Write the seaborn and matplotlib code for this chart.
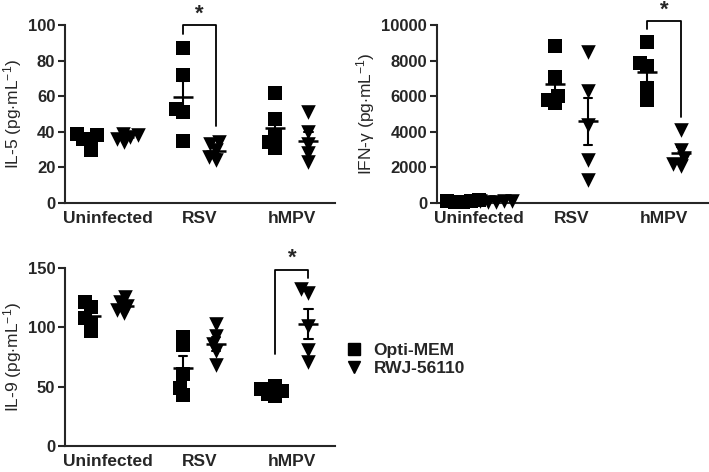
import numpy as np
import pandas as pd
import seaborn as sns
import matplotlib.pyplot as plt
from matplotlib.lines import Line2D

groups = ["Uninfected", "RSV", "hMPV"]
treatments = ["Opti-MEM", "RWJ-56110"]

# IL-5 (pg/mL)
il5_opti = {"Uninfected": [39, 38, 36, 35, 30], "RSV": [87, 72, 53, 51, 35], "hMPV": [62, 47, 38, 34, 31]}
il5_rwj = {"Uninfected": [39, 38, 37, 36, 34], "RSV": [34, 33, 30, 26, 24], "hMPV": [51, 40, 33, 28, 23]}

# IFN-gamma (pg/mL)
ifn_opti = {"Uninfected": [150, 100, 80, 60, 120], "RSV": [8800, 7100, 6000, 5800, 5600], "hMPV": [9050, 7850, 7700, 6450, 5800]}
ifn_rwj = {"Uninfected": [120, 80, 60, 100, 90], "RSV": [8500, 6300, 4400, 2400, 1300], "hMPV": [4100, 3000, 2500, 2200, 2100]}

# IL-9 (pg/mL)
il9_opti = {"Uninfected": [121, 117, 108, 104, 97], "RSV": [92, 85, 61, 49, 43], "hMPV": [51, 48, 46, 44, 42]}
il9_rwj = {"Uninfected": [126, 121, 118, 115, 112], "RSV": [103, 93, 86, 80, 68], "hMPV": [132, 129, 101, 81, 71]}

offset = 0.18


def make_df(opti, rwj):
    rows = []
    for gi, g in enumerate(groups):
        for v in opti[g]:
            rows.append((g, "Opti-MEM", gi - offset, v))
        for v in rwj[g]:
            rows.append((g, "RWJ-56110", gi + offset, v))
    return pd.DataFrame(rows, columns=["group", "treatment", "pos", "value"])


sns.set_style("ticks")
plt.rcParams["font.family"] = ["Liberation Sans", "DejaVu Sans"]
plt.rcParams["mathtext.fontset"] = "custom"
plt.rcParams["mathtext.rm"] = "Liberation Sans"
plt.rcParams["mathtext.it"] = "Liberation Sans:italic"

fig = plt.figure(figsize=(7.09, 4.72), dpi=100)
ax1 = fig.add_axes([0.0917, 0.570, 0.381, 0.377])
ax2 = fig.add_axes([0.616, 0.570, 0.382, 0.377])
ax3 = fig.add_axes([0.0917, 0.055, 0.381, 0.377])

swarms = []  # (collection, final marker size)


def draw_panel(ax, df, ymax, yticks, ylabel):
    for t, m, s in [("Opti-MEM", "s", 9.5), ("RWJ-56110", "v", 10.5)]:
        sub = df[df.treatment == t]
        n0 = len(ax.collections)
        # swarm laid out with a smaller marker so points may overlap like the original
        sns.swarmplot(data=sub, x="pos", y="value", native_scale=True, marker=m,
                      color="black", size=5.5, linewidth=0, ax=ax, warn_thresh=1)
        for coll in ax.collections[n0:]:
            swarms.append((coll, s))
    sns.pointplot(data=df, x="pos", y="value", native_scale=True, errorbar="se",
                  capsize=0.25, linestyle="none", marker="_", markersize=15,
                  markeredgewidth=1.8, color="black", err_kws={"linewidth": 1.5},
                  ax=ax)
    ax.set_xlim(-0.46, 2.47)
    ax.set_ylim(0, ymax)
    ax.set_yticks(yticks)
    ax.set_xticks(range(len(groups)))
    ax.set_xticklabels(groups, fontsize=12.5, fontweight="bold")
    ax.tick_params(axis="x", length=0, pad=6)
    ax.tick_params(axis="y", length=5, width=1.5, labelsize=12, pad=2)
    for lab in ax.get_yticklabels():
        lab.set_fontweight("bold")
    ax.set_xlabel("")
    ax.set_ylabel(ylabel, fontsize=12.5, labelpad=3)
    sns.despine(ax=ax)
    for sp in ["left", "bottom"]:
        ax.spines[sp].set_linewidth(1.5)


def bracket(ax, gi, y_top, y_left, y_right, y_star):
    xl, xr = gi - offset, gi + offset
    ax.plot([xl, xl, xr, xr], [y_left, y_top, y_top, y_right], color="black",
            linewidth=1.3, clip_on=False)
    ax.text((xl + xr) / 2, y_star, "*", ha="center", va="center", fontsize=16,
            fontweight="bold", clip_on=False)


draw_panel(ax1, make_df(il5_opti, il5_rwj), 100, [0, 20, 40, 60, 80, 100],
           r"IL-5 (pg$\cdot$mL$^{-1}$)")
bracket(ax1, 1, 100, 95, 43, 106)

draw_panel(ax2, make_df(ifn_opti, ifn_rwj), 10000, [0, 2000, 4000, 6000, 8000, 10000],
           r"IFN-γ (pg$\cdot$mL$^{-1}$)")
bracket(ax2, 2, 10250, 9800, 4850, 10850)

draw_panel(ax3, make_df(il9_opti, il9_rwj), 150, [0, 50, 100, 150],
           r"IL-9 (pg$\cdot$mL$^{-1}$)")
bracket(ax3, 2, 148.6, 78, 141.5, 158)

handles = [Line2D([], [], marker="s", color="black", linestyle="none", markersize=8),
           Line2D([], [], marker="v", color="black", linestyle="none", markersize=9)]
fig.legend(handles, treatments, loc="center left", bbox_to_anchor=(0.463, 0.239),
           frameon=False, prop={"size": 12.5, "weight": "bold"}, handletextpad=0.5,
           handlelength=1.2, labelspacing=0.15)

# run the swarm layout once with the small markers, then freeze it and enlarge
fig.canvas.draw()
for coll, s in swarms:
    if "draw" in coll.__dict__:
        del coll.__dict__["draw"]
    coll.set_sizes([s ** 2])
    coll.set_clip_on(False)

fig.savefig("out.png", dpi=100)
